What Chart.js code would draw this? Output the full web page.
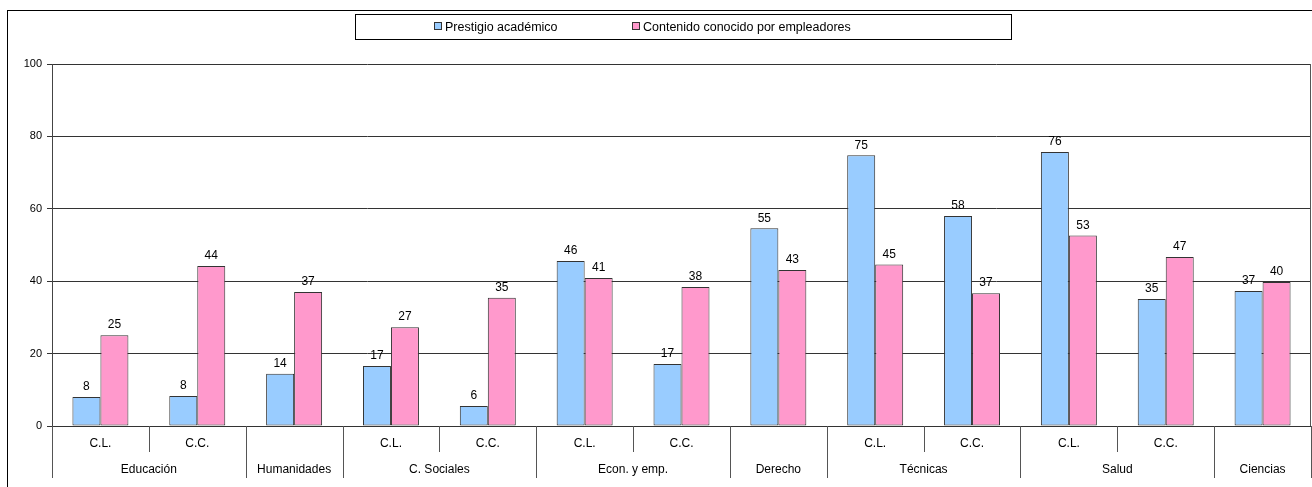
<!DOCTYPE html>
<html>
<head>
<meta charset="utf-8">
<script src="https://cdn.jsdelivr.net/npm/chart.js@4/dist/chart.umd.min.js"></script>
<style>
  body { margin: 0; background: #fff; font-family: Arial, "Liberation Sans", sans-serif; }
  #wrap { position: relative; width: 1312px; height: 487px; overflow: hidden; }
  #frame { position: absolute; left: 7px; top: 10px; width: 1320px; height: 500px; border: 1px solid #000; box-sizing: border-box; }
  #legend { position: absolute; left: 355px; top: 14px; width: 657px; height: 26px; border: 1px solid #000; box-sizing: border-box; font-size: 12.5px; color: #000; }
  .item { position: absolute; top: 5px; line-height: 14px; white-space: nowrap; }
  .sw { display: inline-block; width: 6px; height: 6px; border: 1px solid #333; margin-right: 3px; vertical-align: 1px; }
  canvas { position: absolute; left: 0; top: 0; }
</style>
</head>
<body>
<div id="wrap">
  <div id="frame"></div>
  <canvas id="chart" width="1312" height="487"></canvas>
  <div id="legend">
    <span class="item" style="left:78px"><span class="sw" style="background:#99ccff"></span>Prestigio académico</span>
    <span class="item" style="left:276px"><span class="sw" style="background:#ff99cc"></span>Contenido conocido por empleadores</span>
  </div>
</div>
<script>
// sub labels per bar group, then the outer groups with how many bars each spans
const subLabels = ['C.L.', 'C.C.', '', 'C.L.', 'C.C.', 'C.L.', 'C.C.', '', 'C.L.', 'C.C.', 'C.L.', 'C.C.', ''];
const groupNames = ['Educación', 'Humanidades', 'C. Sociales', 'Econ. y emp.', 'Derecho', 'Técnicas', 'Salud', 'Ciencias'];
const groupSizes = [2, 1, 2, 2, 1, 2, 2, 1];

const prestigio = [8.0, 8.3, 14.4, 16.6, 5.5, 45.6, 17.1, 54.6, 74.8, 58.0, 75.7, 35.1, 37.3];
const contenido = [25.1, 44.2, 37.0, 27.3, 35.4, 40.9, 38.4, 43.1, 44.6, 36.7, 52.6, 46.7, 39.8];

const yTicks = [0, 20, 40, 60, 80, 100];

const FONT = '12px Arial, "Liberation Sans", sans-serif';

// data labels above the bars
const valueLabels = {
    id: 'valueLabels',
    afterDatasetsDraw(chart) {
        const ctx = chart.ctx;
        ctx.save();
        ctx.font = FONT;
        ctx.fillStyle = '#000';
        ctx.textAlign = 'center';
        ctx.textBaseline = 'bottom';
        chart.data.datasets.forEach((ds, di) => {
            chart.getDatasetMeta(di).data.forEach((bar, i) => {
                ctx.fillText(Math.round(ds.data[i]), bar.x, bar.y - 4);
            });
        });
        ctx.restore();
    }
};

// two level category axis underneath
const groupAxis = {
    id: 'groupAxis',
    afterDraw(chart) {
        const ctx = chart.ctx;
        const x = chart.scales.x;
        const area = chart.chartArea;
        const n = subLabels.length;
        const w = (x.right - x.left) / n;
        const bottom = area.bottom;

        ctx.save();
        ctx.strokeStyle = '#555';
        ctx.lineWidth = 1;

        // group boundaries
        const groupEdges = [0];
        groupSizes.forEach(s => groupEdges.push(groupEdges[groupEdges.length - 1] + s));

        for (let i = 0; i <= n; i++) {
            const px = Math.round(x.left + i * w) + 0.5;
            const long = groupEdges.includes(i);
            ctx.beginPath();
            ctx.moveTo(px, bottom);
            ctx.lineTo(px, bottom + (long ? 52 : 26));
            ctx.stroke();
        }
        // right edge of plot area
        const rx = Math.round(x.right) - 0.5;
        ctx.beginPath();
        ctx.moveTo(rx, area.top);
        ctx.lineTo(rx, bottom);
        ctx.stroke();

        ctx.font = FONT;
        ctx.fillStyle = '#000';
        ctx.textAlign = 'center';
        ctx.textBaseline = 'middle';
        subLabels.forEach((s, i) => {
            if (s) ctx.fillText(s, x.getPixelForValue(i), bottom + 18);
        });
        let start = 0;
        groupNames.forEach((g, gi) => {
            const end = start + groupSizes[gi];
            const cx = x.left + (start + end) / 2 * w;
            ctx.fillText(g, cx, bottom + 44);
            start = end;
        });
        ctx.restore();
    }
};

new Chart(document.getElementById('chart'), {
    type: 'bar',
    data: {
        labels: subLabels.map((s, i) => s + '_' + i),
        datasets: [{
            label: 'Prestigio académico',
            data: prestigio,
            backgroundColor: '#99ccff',
            borderColor: '#333',
            borderWidth: 1,
            borderSkipped: false
        }, {
            label: 'Contenido conocido por empleadores',
            data: contenido,
            backgroundColor: '#ff99cc',
            borderColor: '#333',
            borderWidth: 1,
            borderSkipped: false
        }]
    },
    options: {
        responsive: false,
        animation: false,
        layout: { padding: { top: 64, right: 1, left: 0, bottom: 0 } },
        plugins: {
            legend: { display: false },
            tooltip: { enabled: false }
        },
        datasets: { bar: { categoryPercentage: 0.578, barPercentage: 1.0 } },
        scales: {
            x: {
                grid: { display: false },
                border: { display: true, color: '#333' },
                ticks: { display: false },
                afterFit(scale) { scale.height = 61; }
            },
            y: {
                min: 0,
                max: 100,
                afterFit(scale) { scale.width = 52; },
                afterBuildTicks(scale) { scale.ticks = yTicks.map(v => ({ value: v })); },
                grid: { color: '#333', lineWidth: 1, tickLength: 5 },
                border: { color: '#444' },
                ticks: { color: '#000', font: { family: 'Arial, "Liberation Sans", sans-serif', size: 11 }, padding: 5 }
            }
        }
    },
    plugins: [valueLabels, groupAxis]
});
</script>
</body>
</html>
